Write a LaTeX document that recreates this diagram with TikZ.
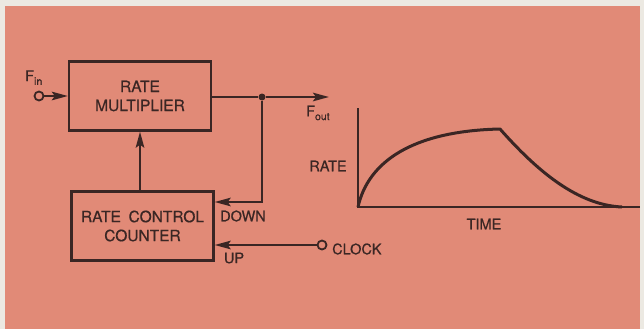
\documentclass[tikz,border=0pt]{standalone}
\usepackage{fontspec}
\setmainfont{TeX Gyre Heros}[FakeBold=0.6]
\usetikzlibrary{arrows.meta}
\definecolor{salmon}{HTML}{E18A77}
\definecolor{paper}{HTML}{ECE9E2}
\definecolor{ink}{HTML}{3A2624}
\tikzset{
  blk/.style={draw=ink, line width=2.3pt, minimum width=142pt, minimum height=69pt, align=center, inner sep=0pt, font=\fontsize{15.5}{19}\selectfont, text=ink},
  lbl/.style={text=ink, font=\fontsize{14.5}{16}\selectfont, inner sep=0pt},
  wire/.style={draw=ink, line width=2.3pt},
  arr/.style={wire, -{Stealth[length=16pt,width=8.5pt,inset=3pt]}},
  port/.style={circle, draw=ink, line width=1.8pt, minimum size=9pt, inner sep=0pt, fill=salmon},
}
\begin{document}
\begin{tikzpicture}[x=1pt,y=-1pt]
\useasboundingbox (0,0) rectangle (644,329);
\fill[paper] (0,0) rectangle (644,329);
\fill[salmon] (5,6) rectangle (640,329);

\node[blk] (rm) at (140,96) {RATE\\MULTIPLIER};
\node[blk] (rc) at (142.5,226) {RATE\enspace CONTROL\\COUNTER};

\node[port] (fin) at (39,96) {};
\node[lbl, anchor=south west] (finl) at (25,85) {F\raisebox{-0.5ex}{\fontsize{10.5}{11}\selectfont in}};
\draw[arr] (fin) -- (fin -| rm.west);

\node[circle, fill=ink, minimum size=7pt, inner sep=0pt] (dot) at (262,97) {};
\coordinate (fo) at (329,97);
\draw[wire] (rm.east |- dot) -- (dot);
\draw[arr] (dot) -- (fo);
\node[lbl, anchor=west] (foutl) at (306,113) {F\raisebox{-0.5ex}{\fontsize{10.5}{11}\selectfont out}};

\coordinate (dn) at (262,202);
\draw[arr] (dot) -- (dn) -- (dn -| rc.east);
\node[lbl] (down) at (243,216) {DOWN};

\draw[arr] (rc.north -| rm.south) -- (rm.south);

\node[port] (clk) at (322,245) {};
\draw[arr] (clk) -- (clk -| rc.east);
\node[lbl] (up) at (234,258) {UP};
\node[lbl, anchor=west] (clkl) at (332,249) {CLOCK};

% graph
\coordinate (o) at (358,207);
\coordinate (ytop) at (358,108);
\coordinate (xend) at (640,207);
\draw[wire] (ytop) -- (o) -- (xend);
\node[lbl] (rate) at (328,166) {RATE};
\node[lbl] (time) at (484,224) {TIME};
\coordinate (pk) at (500,129);
\coordinate (endc) at (622,207);
\draw[draw=ink, line width=3pt, line join=round]
  (o) .. controls (368,162) and (412,131) .. (pk)
      .. controls (538,172) and (578,205) .. (endc);
\end{tikzpicture}
\end{document}
